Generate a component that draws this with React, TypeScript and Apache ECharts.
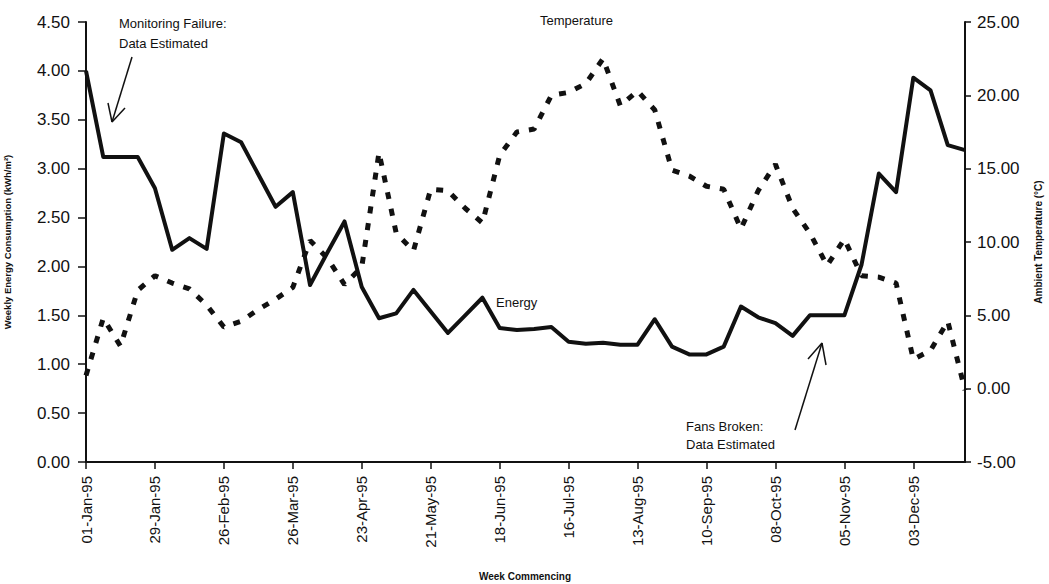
import React, { useEffect, useRef } from "react";
import * as echarts from "echarts";

const weeks = [
  "01-Jan-95", "08-Jan-95", "15-Jan-95", "22-Jan-95", "29-Jan-95",
  "05-Feb-95", "12-Feb-95", "19-Feb-95", "26-Feb-95",
  "05-Mar-95", "12-Mar-95", "19-Mar-95", "26-Mar-95",
  "02-Apr-95", "09-Apr-95", "16-Apr-95", "23-Apr-95", "30-Apr-95",
  "07-May-95", "14-May-95", "21-May-95", "28-May-95",
  "04-Jun-95", "11-Jun-95", "18-Jun-95", "25-Jun-95",
  "02-Jul-95", "09-Jul-95", "16-Jul-95", "23-Jul-95", "30-Jul-95",
  "06-Aug-95", "13-Aug-95", "20-Aug-95", "27-Aug-95",
  "03-Sep-95", "10-Sep-95", "17-Sep-95", "24-Sep-95",
  "01-Oct-95", "08-Oct-95", "15-Oct-95", "22-Oct-95", "29-Oct-95",
  "05-Nov-95", "12-Nov-95", "19-Nov-95", "26-Nov-95",
  "03-Dec-95", "10-Dec-95", "17-Dec-95", "24-Dec-95",
];

const energy = [
  4.0, 3.12, 3.12, 3.12, 2.8, 2.17, 2.29, 2.18, 3.36, 3.27,
  2.94, 2.61, 2.76, 1.81, 2.14, 2.46, 1.79, 1.47, 1.52, 1.76,
  1.54, 1.32, 1.5, 1.68, 1.37, 1.35, 1.36, 1.38, 1.23, 1.21,
  1.22, 1.2, 1.2, 1.46, 1.18, 1.1, 1.1, 1.18, 1.59, 1.48,
  1.42, 1.29, 1.5, 1.5, 1.5, 2.02, 2.95, 2.76, 3.93, 3.8,
  3.24, 3.19,
];

const temperature = [
  0.9, 4.8, 2.9, 6.7, 7.7, 7.2, 6.8, 5.7, 4.2, 4.6,
  5.4, 6.1, 6.9, 10.1, 8.9, 7.1, 8.3, 16.1, 10.6, 9.4,
  13.6, 13.5, 12.3, 11.3, 15.9, 17.5, 17.7, 20.0, 20.2, 20.8,
  22.5, 19.3, 20.3, 19.0, 14.9, 14.5, 13.8, 13.6, 10.9, 13.5,
  15.3, 12.3, 10.6, 8.4, 10.2, 7.7, 7.6, 7.2, 2.0, 2.6,
  4.6, -0.1,
];

const energyTicks = { min: 0, max: 4.5, interval: 0.5 };
const tempTicks = { min: -5, max: 25, interval: 5 };

const FONT = "'Liberation Sans', Arial, Helvetica, sans-serif";
const INK = "#111";

export default function App() {
  const ref = useRef<HTMLDivElement>(null);

  useEffect(() => {
    if (!ref.current) return;
    const chart = echarts.init(ref.current, null, { renderer: "svg" });

    const annoText = (x: number, y: number, text: string, lh = 20) => ({
      type: "text",
      x,
      y,
      style: {
        text,
        fill: INK,
        font: `13px ${FONT}`,
        lineHeight: lh,
      },
    });

    const line = (x1: number, y1: number, x2: number, y2: number) => ({
      type: "line",
      shape: { x1, y1, x2, y2 },
      style: { stroke: INK, lineWidth: 1.5 },
    });

    chart.setOption({
      animation: false,
      backgroundColor: "#fff",
      textStyle: { fontFamily: FONT },
      grid: {
        left: 86,
        right: 84,
        top: 22,
        bottom: 122,
        containLabel: false,
        outerBoundsMode: "none",
      },
      xAxis: {
        type: "category",
        data: weeks,
        boundaryGap: false,
        axisLine: { lineStyle: { color: INK, width: 2 } },
        axisTick: { interval: 3, length: 7, lineStyle: { color: INK, width: 1.5 } },
        axisLabel: {
          interval: 3,
          rotate: 90,
          margin: 14,
          fontSize: 15,
          color: INK,
          fontFamily: FONT,
        },
        splitLine: { show: false },
      },
      yAxis: [
        {
          type: "value",
          ...energyTicks,
          position: "left",
          name: "Weekly Energy Consumption (kWh/m²)",
          nameLocation: "middle",
          nameRotate: 90,
          nameGap: 74,
          nameTextStyle: { fontSize: 9.5, fontWeight: "bold", color: INK, fontFamily: FONT },
          axisLine: { show: true, lineStyle: { color: INK, width: 2 } },
          axisTick: { show: true, length: 8, lineStyle: { color: INK, width: 1.5 } },
          axisLabel: {
            margin: 16,
            fontSize: 17,
            color: INK,
            fontFamily: FONT,
            formatter: (v: number) => v.toFixed(2),
          },
          splitLine: { show: false },
        },
        {
          type: "value",
          ...tempTicks,
          position: "right",
          name: "Ambient Temperature (°C)",
          nameLocation: "middle",
          nameRotate: 90,
          nameGap: 68,
          nameTextStyle: { fontSize: 10, fontWeight: "bold", color: INK, fontFamily: FONT },
          axisLine: { show: true, lineStyle: { color: INK, width: 2 } },
          axisTick: { show: true, length: 6, lineStyle: { color: INK, width: 1.5 } },
          axisLabel: {
            margin: 12,
            fontSize: 17,
            color: INK,
            fontFamily: FONT,
            formatter: (v: number) => v.toFixed(2),
          },
          splitLine: { show: false },
        },
      ],
      series: [
        {
          name: "Energy",
          type: "line",
          data: energy,
          yAxisIndex: 0,
          showSymbol: false,
          lineStyle: { color: INK, width: 4, join: "round" },
          z: 3,
        },
        {
          name: "Temperature",
          type: "line",
          data: temperature,
          yAxisIndex: 1,
          showSymbol: false,
          lineStyle: { color: INK, width: 5, type: [7, 10], cap: "butt" },
          z: 2,
        },
      ],
      graphic: [
        annoText(119, 13, "Monitoring Failure:\nData Estimated", 20),
        annoText(540, 10, "Temperature"),
        annoText(496, 292, "Energy"),
        annoText(686, 417, "Fans Broken:\nData Estimated", 18),
        {
          type: "text",
          x: 525,
          y: 576,
          style: {
            text: "Week Commencing",
            fill: INK,
            font: `bold 10px ${FONT}`,
            textAlign: "center",
            textVerticalAlign: "middle",
          },
        },
        line(132, 57, 112, 122),
        line(112, 122, 108, 103),
        line(112, 122, 125, 108),
        line(795, 430, 822, 343),
        line(822, 343, 808, 359),
        line(822, 343, 826, 365),
      ],
    });

    return () => chart.dispose();
  }, []);

  return (
    <div
      ref={ref}
      style={{ position: "fixed", left: 0, top: 0, width: 1049, height: 584 }}
    />
  );
}
